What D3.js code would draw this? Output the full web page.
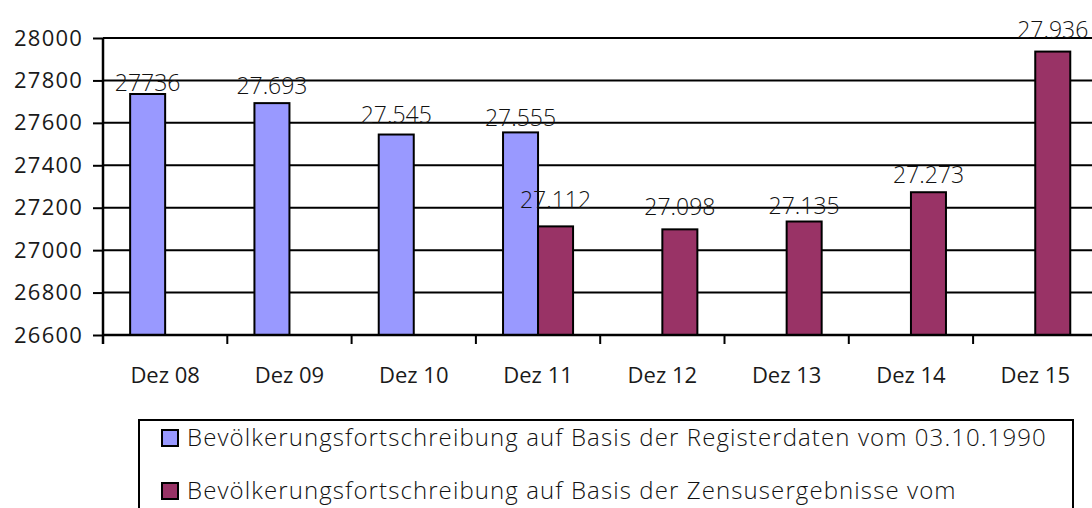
<!DOCTYPE html>
<html>
<head>
<meta charset="utf-8">
<script src="https://cdn.jsdelivr.net/npm/d3@7"></script>
<style>
  html, body { margin: 0; padding: 0; background: #fff; }
  svg { display: block; }
</style>
</head>
<body>
<svg id="chart" width="1092" height="508"></svg>
<script>
// Population figures (December of each year), two bases of the update
const categories = ["Dez 08", "Dez 09", "Dez 10", "Dez 11", "Dez 12", "Dez 13", "Dez 14", "Dez 15"];
const registerValues = [27736, 27693, 27545, 27555, null, null, null, null];
const registerLabels = ["27736", "27.693", "27.545", "27.555", null, null, null, null];
const zensusValues = [null, null, null, 27112, 27098, 27135, 27273, 27936];
const zensusLabels = [null, null, null, "27.112", "27.098", "27.135", "27.273", "27.936"];
const yTicks = [26600, 26800, 27000, 27200, 27400, 27600, 27800, 28000];
const seriesNames = [
  "Bevölkerungsfortschreibung auf Basis der Registerdaten vom 03.10.1990",
  "Bevölkerungsfortschreibung auf Basis der Zensusergebnisse vom"
];
const seriesColors = ["#9999ff", "#993366"];

// vertical nudge of each value label above its bar (px)
const registerLift = [3, 9, 12, 6, 0, 0, 0, 0];
const zensusLift = [0, 0, 0, 18, 14, 8, 9, 14];

const series = [
  { name: seriesNames[0], values: registerValues, labels: registerLabels, lift: registerLift, color: seriesColors[0] },
  { name: seriesNames[1], values: zensusValues, labels: zensusLabels, lift: zensusLift, color: seriesColors[1] }
];

const svg = d3.select("#chart");
const plot = { left: 103, right: 1097.4, top: 38, bottom: 335 };

const x = d3.scaleBand().domain(categories).range([plot.left, plot.right]).paddingInner(0).paddingOuter(0);
const xs = d3.scaleBand().domain([0, 1]).range([0, x.bandwidth()]).paddingInner(0).paddingOuter(0.775);
const y = d3.scaleLinear().domain([26600, 28000]).range([plot.bottom, plot.top]);

const tickFont = "'Open Sans', sans-serif";
const lightFont = "'Open Sans', sans-serif";

// horizontal gridlines
svg.append("g")
  .selectAll("line")
  .data(yTicks.filter(t => t !== 26600))
  .join("line")
  .attr("x1", plot.left).attr("x2", plot.right)
  .attr("y1", d => y(d)).attr("y2", d => y(d))
  .attr("stroke", "#000").attr("stroke-width", 2);

// y axis
const yAxis = svg.append("g")
  .attr("transform", `translate(${plot.left},0)`)
  .call(d3.axisLeft(y).tickValues(yTicks).tickFormat(d3.format("d")).tickSize(10).tickPadding(10));
yAxis.attr("font-family", tickFont).attr("font-size", 22);
yAxis.select(".domain").attr("stroke-width", 2.5).attr("d", `M0,${plot.top}V${plot.bottom + 9}`);
yAxis.selectAll(".tick line").attr("stroke-width", 2);
yAxis.selectAll(".tick text").attr("fill", "#1a1a1a").attr("letter-spacing", 1.2);

// bars
series.forEach((s, si) => {
  svg.append("g")
    .selectAll("rect")
    .data(categories.map((c, i) => ({ c, v: s.values[i] })).filter(d => d.v != null))
    .join("rect")
    .attr("x", d => x(d.c) + xs(si))
    .attr("width", xs.bandwidth())
    .attr("y", d => y(d.v))
    .attr("height", d => y(26600) - y(d.v))
    .attr("fill", s.color)
    .attr("stroke", "#000")
    .attr("stroke-width", 2);
});

// x axis
const xAxisScale = d3.scaleLinear().domain([0, categories.length]).range([plot.left, plot.right]);
const xAxis = svg.append("g").attr("transform", `translate(0,${plot.bottom})`);
xAxis.append("line")
  .attr("x1", plot.left).attr("x2", plot.right)
  .attr("stroke", "#000").attr("stroke-width", 2.5);
xAxis.selectAll("line.tick")
  .data(d3.range(categories.length + 1))
  .join("line").attr("class", "tick")
  .attr("x1", d => xAxisScale(d)).attr("x2", d => xAxisScale(d))
  .attr("y1", 0).attr("y2", 9)
  .attr("stroke", "#000").attr("stroke-width", 2);
xAxis.selectAll("text")
  .data(categories)
  .join("text")
  .attr("x", d => x(d) + x.bandwidth() / 2)
  .attr("y", 48)
  .attr("text-anchor", "middle")
  .attr("font-family", tickFont).attr("font-size", 22).attr("fill", "#1a1a1a")
  .text(d => d);

// value labels
series.forEach((s, si) => {
  svg.append("g")
    .selectAll("text")
    .data(categories.map((c, i) => ({ c, v: s.values[i], t: s.labels[i], lift: s.lift[i] })).filter(d => d.v != null))
    .join("text")
    .attr("x", d => x(d.c) + xs(si) + xs.bandwidth() / 2)
    .attr("y", d => y(d.v) - d.lift)
    .attr("text-anchor", "middle")
    .attr("font-family", lightFont).attr("font-weight", 300).attr("font-size", 23)
    .attr("fill", "#111")
    .text(d => d.t);
});

// legend
const legend = svg.append("g");
legend.append("rect")
  .attr("x", 139).attr("y", 420).attr("width", 934).attr("height", 120)
  .attr("fill", "#fff").attr("stroke", "#000").attr("stroke-width", 2);
const items = legend.selectAll("g.item")
  .data(series)
  .join("g").attr("class", "item")
  .attr("transform", (d, i) => `translate(162,${430 + i * 53})`);
items.append("rect")
  .attr("width", 16).attr("height", 16)
  .attr("fill", d => d.color).attr("stroke", "#000").attr("stroke-width", 2);
items.append("text")
  .attr("x", 25).attr("y", 16)
  .attr("font-family", lightFont).attr("font-weight", 300).attr("font-size", 24)
  .attr("letter-spacing", 1.1)
  .attr("fill", "#111")
  .text(d => d.name);
</script>
</body>
</html>
